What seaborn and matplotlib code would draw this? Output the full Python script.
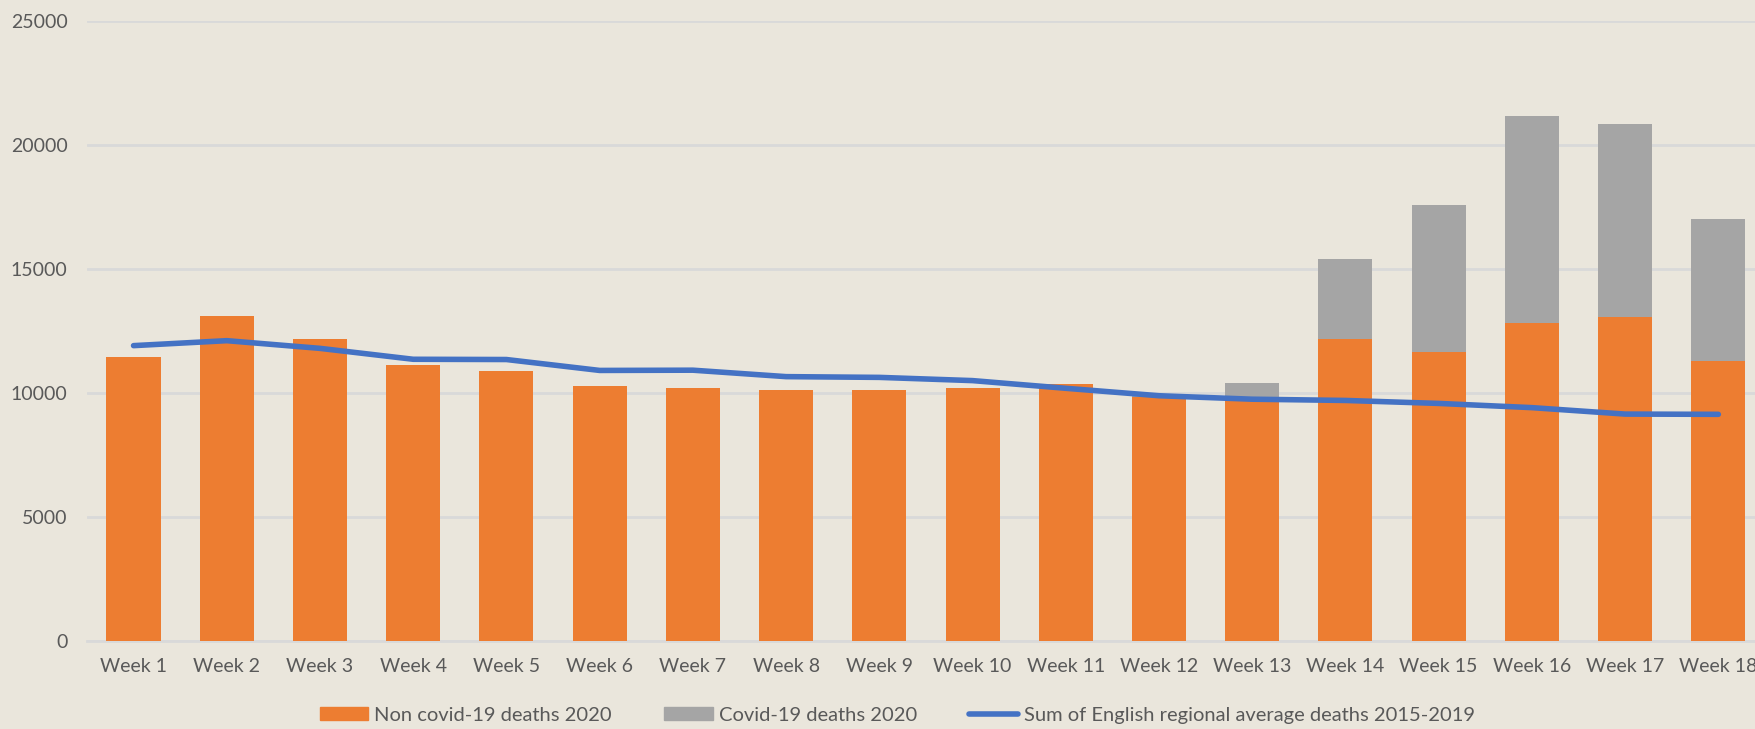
import numpy as np
import pandas as pd
import seaborn as sns
import matplotlib.pyplot as plt
from matplotlib.patches import Patch
from matplotlib.lines import Line2D

# dati
weeks = [f"Week {i}" for i in range(1, 19)]
non_covid = [11450, 13090, 12180, 11120, 10890, 10270, 10220, 10120, 10120,
             10220, 10350, 9850, 9800, 12160, 11650, 12810, 13050, 11280]
covid = [0, 0, 0, 0, 0, 0, 0, 0, 0, 0, 0, 100, 610, 3250, 5930, 8360, 7800, 5720]
avg_2015_2019 = [11910, 12110, 11800, 11360, 11350, 10910, 10920, 10660, 10630,
                 10500, 10190, 9890, 9750, 9700, 9580, 9410, 9150, 9140]

bg = "#EAE6DC"
orange = "#ED7D31"
grey = "#A5A5A5"
blue = "#4472C4"
txt = "#595959"

df = pd.DataFrame({"week": weeks, "non_covid": non_covid, "covid": covid,
                   "avg": avg_2015_2019})
df["total"] = df["non_covid"] + df["covid"]

sns.set_style("white")
plt.rcParams["font.family"] = ["Lato", "DejaVu Sans"]

fig = plt.figure(figsize=(17.56, 7.29), dpi=100, facecolor=bg)
ax = fig.add_axes([0.0495, 0.1207, 0.9556, 0.8505])
ax.set_facecolor(bg)

# barre impilate: prima il totale (grigio), poi la parte non covid sopra
sns.barplot(data=df, x="week", y="total", color=grey, width=0.58,
            saturation=1, linewidth=0, ax=ax, zorder=2)
sns.barplot(data=df, x="week", y="non_covid", color=orange, width=0.58,
            saturation=1, linewidth=0, ax=ax, zorder=3)
sns.lineplot(data=df, x="week", y="avg", color=blue, linewidth=4,
             solid_capstyle="round", solid_joinstyle="round", ax=ax, zorder=4)

ax.set_xlim(-0.5, 17.5)
ax.set_ylim(0, 25000)
ax.set_yticks(np.arange(0, 25001, 5000))
ax.yaxis.grid(True, color="#D9D9D9", linewidth=2)
ax.set_axisbelow(True)
for s in ["top", "right", "left"]:
    ax.spines[s].set_visible(False)
ax.spines["bottom"].set_color("#D9D9D9")
ax.spines["bottom"].set_linewidth(2)
ax.set_xlabel("")
ax.set_ylabel("")
ax.tick_params(axis="both", length=0, labelsize=14, labelcolor=txt)
ax.tick_params(axis="y", pad=14)
ax.tick_params(axis="x", pad=12)

handles = [Patch(color=orange), Patch(color=grey),
           Line2D([], [], color=blue, linewidth=4, solid_capstyle="round")]
labels = ["Non covid-19 deaths 2020", "Covid-19 deaths 2020",
          "Sum of English regional average deaths 2015-2019"]
fig.legend(handles, labels, loc="center", bbox_to_anchor=(0.511, 0.019),
           ncol=3, frameon=False, fontsize=14.5, labelcolor=txt,
           handlelength=2.4, handleheight=0.55, handletextpad=0.3,
           columnspacing=2.6)

fig.savefig("out.png", dpi=100, facecolor=bg)
